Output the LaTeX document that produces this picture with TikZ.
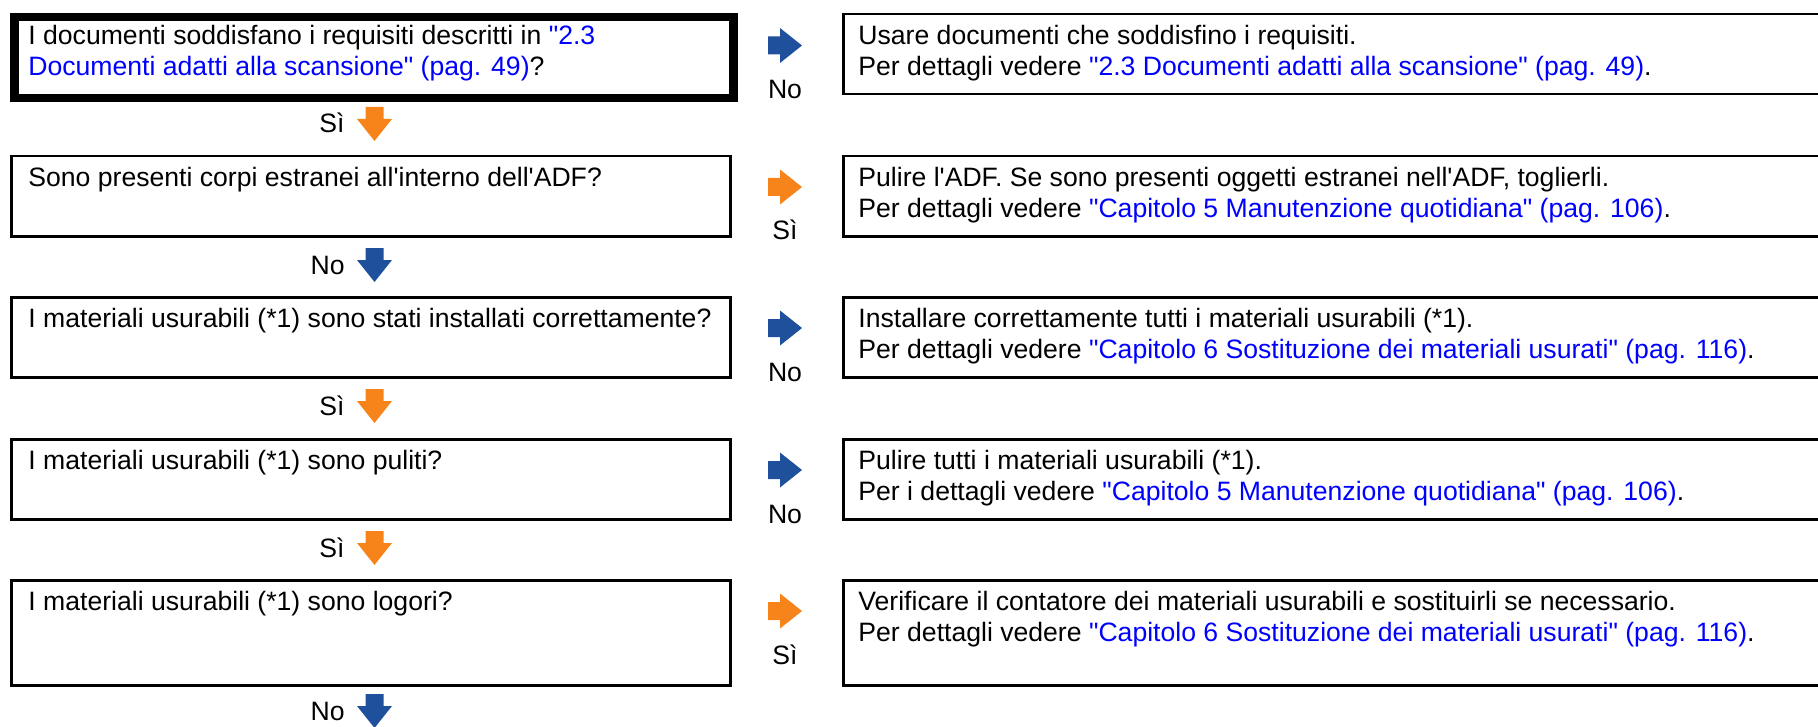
\documentclass[tikz,border=0pt]{standalone}
\usepackage{fontspec}
\setmainfont{Liberation Sans}
\usetikzlibrary{positioning}

\definecolor{linkblue}{RGB}{0,0,255}
\definecolor{noblue}{RGB}{30,80,155}
\definecolor{siorange}{RGB}{247,132,26}
\newcommand{\lnk}[1]{\textcolor{linkblue}{#1}}
\newcommand{\qd}{\textquotedbl}
\newcommand{\qs}{\textquotesingle}

\begin{document}
\begin{tikzpicture}[
    x=0.5pt, y=-0.5pt,
    font=\fontsize{13.3pt}{15.5pt}\selectfont,
    qbox/.style={
        rectangle,
        draw=black,
        line width=1.25pt,
        anchor=north west,
        inner sep=0pt,
        minimum width=359.5pt,
        minimum height=#1
    },
    abox/.style={
        rectangle,
        draw=black,
        line width=1.25pt,
        anchor=north west,
        inner sep=0pt,
        minimum width=494pt,
        minimum height=#1
    },
    txt/.style={
        anchor=north west,
        inner sep=0pt,
        align=left
    },
    ans/.style={anchor=base, inner sep=0pt},
    dlab/.style={anchor=base east, inner sep=0pt},
    pics/blockarr/.style={code={
        \fill[#1] (0pt,-4.5pt) -- (6pt,-4.5pt) -- (6pt,-8.75pt) -- (17pt,0pt)
            -- (6pt,8.75pt) -- (6pt,4.5pt) -- (0pt,4.5pt) -- cycle;
    }}
]
\useasboundingbox (0,0) rectangle (1818,727);

% Questions
\node[qbox=40.5pt, line width=4.25pt] (q1) at (10,13) {};
\node[qbox=40pt] (q2) at (10,155) {};
\node[qbox=40pt] (q3) at (10,296) {};
\node[qbox=40pt] (q4) at (10,438) {};
\node[qbox=52.5pt] (q5) at (10,579) {};

\node[txt] (q1t) at ([xshift=9pt,yshift=-6pt]q1.north west) {I documenti soddisfano i requisiti descritti in \lnk{\qd2.3}\\\lnk{Documenti adatti alla scansione\qd{} (pag. 49)}?};
\node[txt] (q2t) at ([xshift=9pt,yshift=-6pt]q2.north west) {Sono presenti corpi estranei all\qs interno dell\qs ADF?};
\node[txt] (q3t) at ([xshift=9pt,yshift=-6pt]q3.north west) {I materiali usurabili (*1) sono stati installati correttamente?};
\node[txt] (q4t) at ([xshift=9pt,yshift=-6pt]q4.north west) {I materiali usurabili (*1) sono puliti?};
\node[txt] (q5t) at ([xshift=9pt,yshift=-6pt]q5.north west) {I materiali usurabili (*1) sono logori?};

% Actions
\node[abox=40pt] (a1) at (842,13) {};
\node[abox=40pt] (a2) at (842,155) {};
\node[abox=40pt] (a3) at (842,296) {};
\node[abox=40pt] (a4) at (842,438) {};
\node[abox=52.5pt] (a5) at (842,579) {};

\node[txt] (a1t) at ([xshift=8pt,yshift=-6pt]a1.north west) {Usare documenti che soddisfino i requisiti.\\Per dettagli vedere \lnk{\qd2.3 Documenti adatti alla scansione\qd{} (pag. 49)}.};
\node[txt] (a2t) at ([xshift=8pt,yshift=-6pt]a2.north west) {Pulire l\qs ADF. Se sono presenti oggetti estranei nell\qs ADF, toglierli.\\Per dettagli vedere \lnk{\qd Capitolo 5 Manutenzione quotidiana\qd{} (pag. 106)}.};
\node[txt] (a3t) at ([xshift=8pt,yshift=-6pt]a3.north west) {Installare correttamente tutti i materiali usurabili (*1).\\Per dettagli vedere \lnk{\qd Capitolo 6 Sostituzione dei materiali usurati\qd{} (pag. 116)}.};
\node[txt] (a4t) at ([xshift=8pt,yshift=-6pt]a4.north west) {Pulire tutti i materiali usurabili (*1).\\Per i dettagli vedere \lnk{\qd Capitolo 5 Manutenzione quotidiana\qd{} (pag. 106)}.};
\node[txt] (a5t) at ([xshift=8pt,yshift=-6pt]a5.north west) {Verificare il contatore dei materiali usurabili e sostituirli se necessario.\\Per dettagli vedere \lnk{\qd Capitolo 6 Sostituzione dei materiali usurati\qd{} (pag. 116)}.};

% Right arrows
\pic (r1) at (768,45.5) {blockarr=noblue};
\pic (r2) at (768,187) {blockarr=siorange};
\pic (r3) at (768,328) {blockarr=noblue};
\pic (r4) at (768,470) {blockarr=noblue};
\pic (r5) at (768,611) {blockarr=siorange};
\node[ans] (r1l) at (785,99) {No};
\node[ans] (r2l) at (785,240) {Sì};
\node[ans] (r3l) at (785,381) {No};
\node[ans] (r4l) at (785,523) {No};
\node[ans] (r5l) at (785,664) {Sì};

% Down arrows
\pic[rotate=-90] (d1) at (374.5,107) {blockarr=siorange};
\pic[rotate=-90] (d2) at (374.5,248) {blockarr=noblue};
\pic[rotate=-90] (d3) at (374.5,389) {blockarr=siorange};
\pic[rotate=-90] (d4) at (374.5,531) {blockarr=siorange};
\pic[rotate=-90] (d5) at (374.5,694) {blockarr=noblue};
\node[dlab] (d1l) at (345,133) {Sì};
\node[dlab] (d2l) at (345,274) {No};
\node[dlab] (d3l) at (345,415) {Sì};
\node[dlab] (d4l) at (345,557) {Sì};
\node[dlab] (d5l) at (345,720) {No};

\end{tikzpicture}
\end{document}
